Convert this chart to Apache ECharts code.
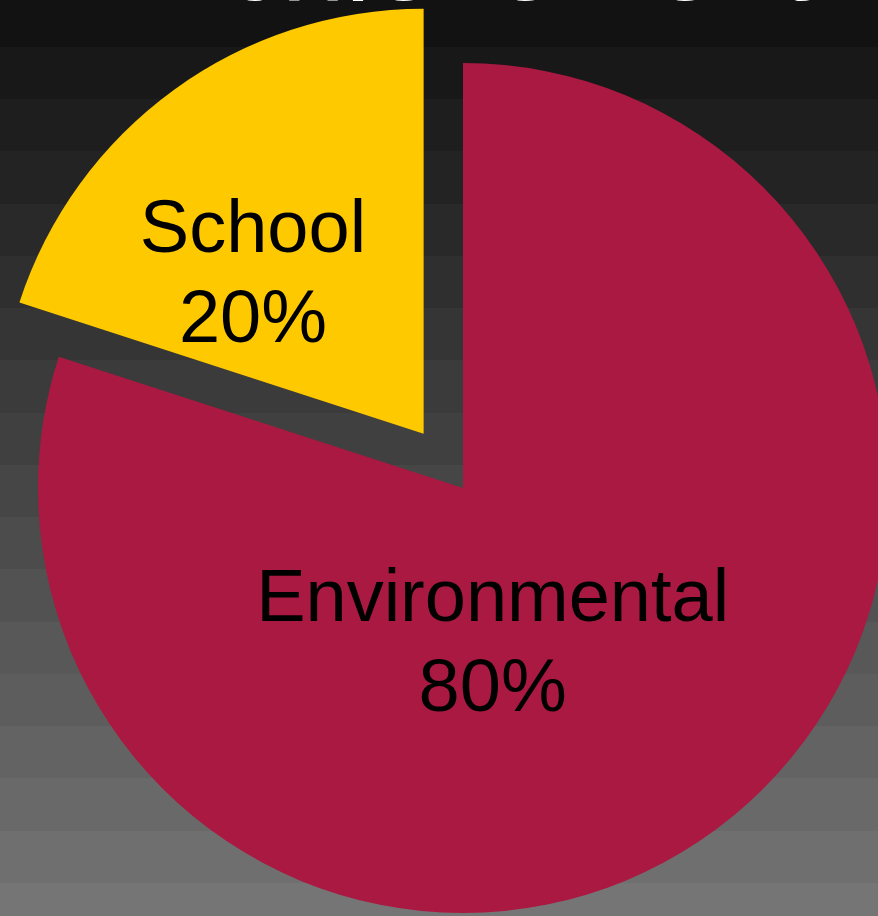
<!DOCTYPE html>
<html>
<head>
<meta charset="utf-8">
<script src="https://cdn.jsdelivr.net/npm/echarts@6/dist/echarts.min.js"></script>
<style>html,body{margin:0;padding:0;}#c{width:878px;height:916px;}</style>
</head>
<body>
<div id="c"></div>
<script>
const titleText = "Achievement";
const categories = ["Environmental", "School"];
const values = [80, 20];
const selectedCategory = "School";

const chart = echarts.init(document.getElementById('c'), null, {renderer: 'canvas'});

// banded dark gradient background
const stops = [];
const bandEdges = [0, 47];
for (let i = 1; i <= 16; i++) bandEdges.push(47 + i * 52.25);
bandEdges.push(916);
for (let k = 0; k < bandEdges.length - 1; k++) {
  const v = Math.round(18 + k * 5.8);
  const c = 'rgb(' + v + ',' + v + ',' + v + ')';
  stops.push({offset: bandEdges[k] / 916, color: c});
  stops.push({offset: bandEdges[k + 1] / 916, color: c});
}

const colors = ['#AA1942', '#FFC900'];
const labelShift = [[-97, -17], [-44, 17]];

chart.setOption({
  animation: false,
  backgroundColor: new echarts.graphic.LinearGradient(0, 0, 0, 1, stops),
  title: {
    text: titleText,
    left: 142,
    top: -94,
    textStyle: {color: '#ffffff', fontSize: 115, fontWeight: 'normal', fontFamily: 'Liberation Sans', lineHeight: 115}
  },
  series: [{
    type: 'pie',
    center: [463, 488],
    radius: [0, 425],
    startAngle: 90,
    clockwise: true,
    selectedMode: 'single',
    selectedOffset: 67,
    emphasis: {disabled: true},
    label: {
      show: true,
      position: 'inside',
      formatter: '{b}\n{d}%',
      color: '#000000',
      fontSize: 74,
      lineHeight: 90,
      fontFamily: 'Liberation Sans'
    },
    labelLine: {show: false},
    labelLayout: function (p) {
      return {dx: labelShift[p.dataIndex][0], dy: labelShift[p.dataIndex][1]};
    },
    data: categories.map((n, i) => ({
      name: n, value: values[i], selected: n === selectedCategory,
      itemStyle: {color: colors[i]}
    }))
  }]
});
</script>
</body>
</html>
